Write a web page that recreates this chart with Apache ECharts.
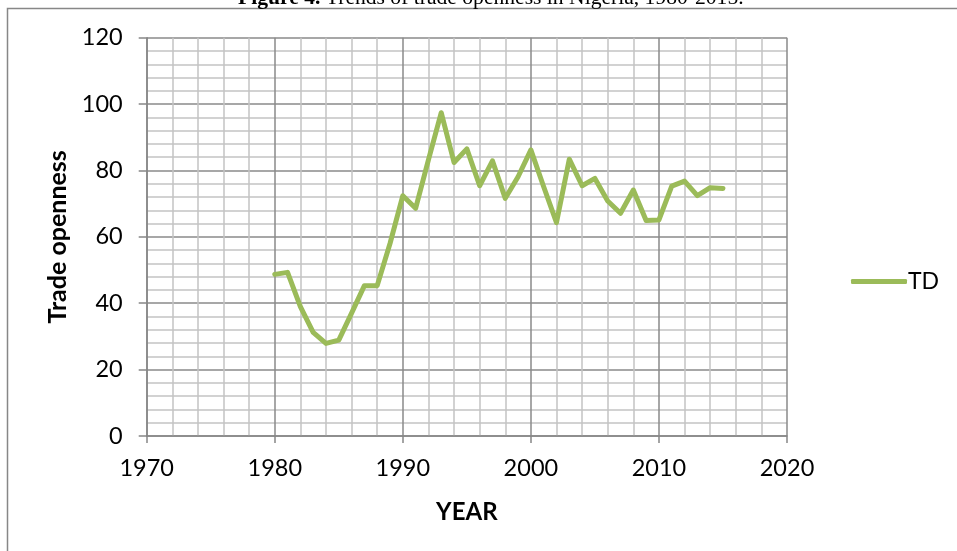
<!DOCTYPE html>
<html>
<head>
<meta charset="utf-8">
<script src="https://cdn.jsdelivr.net/npm/echarts@6/dist/echarts.min.js"></script>
<style>
html,body{margin:0;padding:0;background:#fff;}
#chart{width:957px;height:551px;}
</style>
</head>
<body>
<div id="chart"></div>
<script>
var years = [1980,1981,1982,1983,1984,1985,1986,1987,1988,1989,1990,1991,1992,1993,1994,1995,1996,1997,1998,1999,2000,2001,2002,2003,2004,2005,2006,2007,2008,2009,2010,2011,2012,2013,2014,2015];
var tdValues = [48.7,49.3,39.0,31.2,27.9,28.9,37.0,45.3,45.3,58.0,72.4,68.6,83.2,97.4,82.4,86.5,75.4,82.9,71.6,78.1,86.2,75.1,64.3,83.4,75.4,77.6,70.8,67.1,74.1,64.9,65.1,75.3,76.8,72.4,74.8,74.6];
var seriesName = 'TD';
var titleBold = 'Figure 4.';
var titleRest = ' Trends of trade openness in Nigeria, 1980-2015.';
var xAxisTitle = 'YEAR';
var yAxisTitle = 'Trade openness';

var data = years.map(function(y, i){ return [y, tdValues[i]]; });
var font = 'Lato, Carlito, Calibri, sans-serif';
var chart = echarts.init(document.getElementById('chart'), null, {renderer:'canvas'});
chart.setOption({
  backgroundColor: '#ffffff',
  animation: false,
  graphic: [
    { type: 'rect', shape: {x: 7.5, y: 8.5, width: 1200, height: 800}, style: {fill: 'none', stroke: '#878787', lineWidth: 1.5}, z: 0 },
    { type: 'text', x: 238, y: -2, style: { text: '{b|' + titleBold + '}{r|' + titleRest + '}', verticalAlign: 'middle', rich: {
        b: {fontFamily: '"Liberation Serif", "Times New Roman", serif', fontWeight: 'bold', fontSize: 21.6, fill: '#000'},
        r: {fontFamily: '"Liberation Serif", "Times New Roman", serif', fontSize: 21.6, fill: '#000'} } }, z: 10 }
  ],
  grid: { left: 146.7, right: 170, top: 37.7, bottom: 115, containLabel: false },
  legend: {
    data: [seriesName], orient: 'vertical', left: 851, top: 270, padding: 0,
    itemWidth: 56, itemHeight: 5, itemGap: 4,
    icon: 'roundRect',
    itemStyle: {color: '#9BBB59'},
    textStyle: {fontFamily: font, fontSize: 23, color: '#000', padding: [0,0,0,-4]}
  },
  xAxis: {
    type: 'value', min: 1970, max: 2020, interval: 10,
    name: xAxisTitle, nameLocation: 'middle', nameGap: 64,
    nameTextStyle: {fontFamily: font, fontSize: 24, fontWeight: 'bold', color: '#000'},
    axisLine: {show: true, lineStyle: {color: '#868686', width: 1.5}},
    axisTick: {show: true, length: 7, lineStyle: {color: '#868686', width: 1.5}},
    axisLabel: {fontFamily: font, fontSize: 23.5, color: '#000', margin: 20, formatter: function(v){ return String(v); }},
    splitLine: {show: true, lineStyle: {color: '#8a8a8a', width: 1.5}},
    minorTick: {show: false, splitNumber: 5},
    minorSplitLine: {show: true, lineStyle: {color: '#c4c4c4', width: 1.5}}
  },
  yAxis: {
    type: 'value', min: 0, max: 120, interval: 20,
    name: yAxisTitle, nameLocation: 'middle', nameGap: 76, nameRotate: 90,
    nameTextStyle: {fontFamily: font, fontSize: 25, fontWeight: 'bold', color: '#000'},
    axisLine: {show: true, lineStyle: {color: '#868686', width: 1.5}},
    axisTick: {show: true, length: 8, lineStyle: {color: '#868686', width: 1.5}},
    axisLabel: {fontFamily: font, fontSize: 23.5, color: '#000', margin: 24},
    splitLine: {show: true, lineStyle: {color: '#8a8a8a', width: 1.5}},
    minorTick: {show: false, splitNumber: 5},
    minorSplitLine: {show: true, lineStyle: {color: '#c4c4c4', width: 1.5}}
  },
  series: [{
    name: seriesName, type: 'line', data: data, showSymbol: false, symbol: 'none',
    lineStyle: {color: '#9BBB59', width: 5, cap: 'round', join: 'round'},
    itemStyle: {color: '#9BBB59'}, z: 5
  }]
});
</script>
</body>
</html>
